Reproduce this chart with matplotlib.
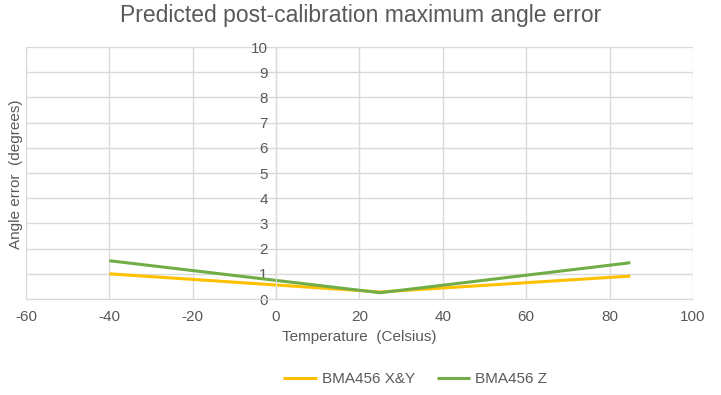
import matplotlib.pyplot as plt

# Data
temps = [-40, 25, 85]
err_xy = [1.0, 0.28, 0.91]
err_z = [1.52, 0.25, 1.44]
x_ticks = [-60, -40, -20, 0, 20, 40, 60, 80, 100]
y_ticks = list(range(0, 11))

TEXT = '#595959'
GRID = '#d9d9d9'

plt.rcParams['font.family'] = ['Liberation Sans', 'DejaVu Sans']
plt.rcParams['axes.unicode_minus'] = False

fig = plt.figure(figsize=(7.21, 3.95), dpi=100)
ax = fig.add_axes([0.036, 0.243, 0.925, 0.638])

ax.plot(temps, err_xy, color='#FFC000', lw=2.2, label='BMA456 X&Y', solid_capstyle='butt')
ax.plot(temps, err_z, color='#70AD47', lw=2.2, label='BMA456 Z', solid_capstyle='butt')

ax.set_xlim(-60, 100)
ax.set_ylim(0, 10)
ax.set_xticks(x_ticks)
ax.set_yticks(y_ticks)
ax.grid(True, color=GRID, lw=1)
ax.set_axisbelow(True)

# value axis crosses at x = 0
ax.spines['left'].set_position(('data', 0))
ax.spines['left'].set_color(GRID)
ax.spines['bottom'].set_color(GRID)
ax.spines['top'].set_visible(False)
ax.spines['right'].set_visible(False)
ax.tick_params(length=0, colors=TEXT, labelsize=11)
ax.tick_params(axis='x', pad=8)
ax.tick_params(axis='y', pad=6)

ax.set_xlabel('Temperature  (Celsius)', color=TEXT, fontsize=11, labelpad=4)
fig.text(0.012, 0.56, 'Angle error  (degrees)', rotation=90, color=TEXT,
         fontsize=11, ha='left', va='center')
fig.suptitle('Predicted post-calibration maximum angle error', color=TEXT,
             fontsize=16.5, y=0.99)

fig.legend(loc='center', ncol=2, frameon=False, fontsize=11,
           labelcolor=TEXT, bbox_to_anchor=(0.576, 0.04), handlelength=2.2,
           handletextpad=0.3, columnspacing=1.45)

fig.savefig('out.png', dpi=100)
